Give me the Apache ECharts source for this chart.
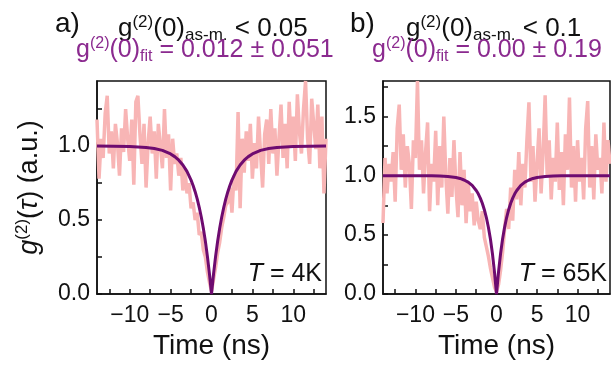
<!DOCTYPE html>
<html>
<head>
<meta charset="utf-8">
<script src="https://cdn.jsdelivr.net/npm/echarts@6/dist/echarts.min.js"></script>
<style>
  html, body { margin: 0; padding: 0; background: #fff; }
  #chart { width: 611px; height: 365px; }
</style>
</head>
<body>
<div id="chart"></div>
<script>
// time bins of the measured histograms (ns)
const timeStart = -14
const timeStep = 0.25

// a) T = 4K, measured g2 (one value per 0.25 ns bin, -14 .. 14)
const countsA = [
  1.18, 0.78, 1.05, 0.92, 1.22, 1.34, 0.95, 1.10, 0.85, 1.15, 1.02, 0.80,
  1.12, 0.96, 1.25, 1.05, 0.90, 1.18, 0.74, 1.30, 1.34, 1.08, 0.88, 1.15,
  0.72, 1.02, 1.20, 0.95, 1.10, 0.78, 1.15, 1.00, 0.85, 1.25, 0.92, 1.08,
  0.70, 1.05, 0.88, 0.95, 0.80, 0.92, 0.70, 0.85, 0.68, 0.75, 0.58, 0.62,
  0.50, 0.55, 0.40, 0.42, 0.30, 0.25, 0.15, 0.08, 0.02, 0.10, 0.18, 0.28,
  0.35, 0.45, 0.52, 0.60, 0.62, 0.72, 0.55, 0.80, 0.70, 1.23, 0.58, 1.05,
  0.82, 1.10, 0.90, 1.15, 0.78, 1.02, 0.85, 1.20, 0.95, 0.72, 1.08, 1.18,
  0.88, 1.25, 0.95, 1.12, 0.80, 1.05, 1.28, 0.92, 1.15, 0.85, 1.30, 1.00,
  1.20, 0.90, 1.35, 1.10, 0.95, 1.25, 1.44, 1.05, 0.88, 1.32, 1.15, 0.98,
  1.28, 0.85, 1.20, 0.68, 1.05
]

// b) T = 65K, measured g2
const countsB = [
  0.60, 1.15, 0.85, 1.10, 0.95, 1.20, 0.78, 1.40, 1.60, 1.05, 1.35, 0.90,
  1.25, 1.10, 0.72, 1.30, 1.15, 1.80, 1.05, 1.30, 0.85, 1.20, 1.45, 0.70,
  1.10, 0.95, 1.38, 0.75, 1.25, 0.90, 1.50, 1.00, 0.68, 1.15, 0.82, 1.30,
  0.90, 0.65, 1.20, 0.75, 1.05, 0.60, 0.95, 0.70, 0.85, 0.58, 0.78, 0.62,
  0.55, 0.70, 0.48, 0.40, 0.32, 0.22, 0.14, 0.06, 0.02, 0.08, 0.20, 0.35,
  0.55, 0.72, 0.55, 0.90, 0.62, 1.05, 0.80, 1.20, 0.75, 1.10, 0.90, 1.30,
  1.62, 0.95, 1.25, 0.78, 1.10, 1.40, 0.85, 1.20, 1.68, 1.00, 1.30, 0.80,
  1.15, 0.95, 1.45, 0.88, 1.20, 0.75, 1.35, 1.05, 1.66, 0.90, 1.25, 0.78,
  1.30, 0.95, 1.15, 0.80, 1.40, 1.63, 0.90, 1.25, 0.80, 1.35, 1.05, 1.15,
  0.85, 1.45, 0.95, 1.30, 1.10
]

// fit curves
const fitTime = [
  -14, -10, -8, -7, -6, -5, -4.5, -4, -3.5, -3, -2.5, -2.25, -2, -1.75, -1.5, -1.25, -1, -0.75, -0.5, -0.25,
  0, 0.25, 0.5, 0.75, 1, 1.25, 1.5, 1.75, 2, 2.25, 2.5, 3, 3.5, 4, 4.5, 5, 6, 7, 8, 10, 14
]
const fitA = [
  1.0, 0.997, 0.991, 0.984, 0.971, 0.947, 0.929, 0.905, 0.872, 0.829, 0.770, 0.734, 0.692, 0.643, 0.586, 0.521, 0.445, 0.357, 0.255, 0.137,
  0.0, 0.137, 0.255, 0.357, 0.445, 0.521, 0.586, 0.643, 0.692, 0.734, 0.770, 0.829, 0.872, 0.905, 0.929, 0.947, 0.971, 0.984, 0.991, 0.997, 1.0
]
const fitB = [
  1.0, 1.0, 0.999, 0.997, 0.993, 0.985, 0.977, 0.964, 0.946, 0.918, 0.875, 0.847, 0.811, 0.767, 0.713, 0.647, 0.565, 0.465, 0.341, 0.188,
  0.0, 0.188, 0.341, 0.465, 0.565, 0.647, 0.713, 0.767, 0.811, 0.847, 0.875, 0.918, 0.946, 0.964, 0.977, 0.985, 0.993, 0.997, 0.999, 1.0, 1.0
]

const xLabels = [-10, -5, 0, 5, 10]
const xTicks = [-12.5, -10, -7.5, -5, -2.5, 0, 2.5, 5, 7.5, 10, 12.5]
const yLabelsA = [0, 0.5, 1.0]
const yTicksA = [0, 0.25, 0.5, 0.75, 1.0, 1.25]
const yLabelsB = [0, 0.5, 1.0, 1.5]
const yTicksB = [0, 0.25, 0.5, 0.75, 1.0, 1.25, 1.5, 1.75]

const FONT = "Liberation Sans"
const INK = "#111"
const PURPLE_TEXT = "#8b2a8f"
const FIT_COLOR = "#6e0b70"
const DATA_COLOR = "#f8b5b5"

function richStyle(size, color, supSize) {
  return {
    fontSize: size,
    lineHeight: size + 4,
    color: color,
    fontFamily: FONT,
    fontWeight: "normal",
    rich: {
      sup: { fontSize: supSize, lineHeight: 6, verticalAlign: "top", color: color, fontFamily: FONT },
      sub: { fontSize: supSize, lineHeight: 18, verticalAlign: "bottom", color: color, fontFamily: FONT },
      i: { fontStyle: "italic", fontSize: size, color: color, fontFamily: FONT },
    },
  }
}

function timeAxis(gridIndex) {
  return {
    type: "value",
    gridIndex: gridIndex,
    min: -14,
    max: 14,
    axisLine: { show: true, onZero: false, lineStyle: { color: INK, width: 1.5 } },
    axisTick: { show: true, inside: true, length: 5, customValues: xTicks, lineStyle: { color: INK, width: 1.5 } },
    axisLabel: {
      customValues: xLabels,
      formatter: (v) => (v < 0 ? "\u2212" + Math.abs(v) : String(v)),
      color: INK,
      fontSize: 23,
      margin: 10,
      fontFamily: FONT,
    },
    splitLine: { show: false },
    name: "Time (ns)",
    nameLocation: "middle",
    nameGap: 35,
    nameTextStyle: { fontSize: 28, color: INK, fontFamily: FONT },
  }
}

function valueAxis(gridIndex, max, labels, ticks, name) {
  const axis = {
    type: "value",
    gridIndex: gridIndex,
    min: 0,
    max: max,
    axisLine: { show: true, onZero: false, lineStyle: { color: INK, width: 1.5 } },
    axisTick: { show: true, inside: true, length: 5, customValues: ticks, lineStyle: { color: INK, width: 1.5 } },
    axisLabel: {
      customValues: labels,
      formatter: (v) => v.toFixed(1),
      color: INK,
      fontSize: 23,
      margin: 7,
      fontFamily: FONT,
    },
    splitLine: { show: false },
  }
  if (name) {
    axis.name = name
    axis.nameLocation = "middle"
    axis.nameGap = 52
    axis.nameTextStyle = richStyle(27, INK, 17)
  }
  return axis
}

const chart = echarts.init(document.getElementById("chart"), null, { renderer: "canvas" })

const option = {
  animation: false,
  backgroundColor: "#fff",
  title: [
    { text: "a)", left: 55, top: 10, padding: 0, textStyle: { fontSize: 28, color: INK, fontFamily: FONT, fontWeight: "normal" } },
    { text: "g{sup|(2)}(0){sub|as-m.} < 0.05", left: 118, top: 14, padding: 0, textStyle: richStyle(26, INK, 17) },
    { text: "g{sup|(2)}(0){sub|fit} = 0.012 \u00b1 0.051", left: 76, top: 36, padding: 0, textStyle: richStyle(25, PURPLE_TEXT, 16) },
    { text: "b)", left: 350, top: 10, padding: 0, textStyle: { fontSize: 28, color: INK, fontFamily: FONT, fontWeight: "normal" } },
    { text: "g{sup|(2)}(0){sub|as-m.} < 0.1", left: 406, top: 14, padding: 0, textStyle: richStyle(26, INK, 17) },
    { text: "g{sup|(2)}(0){sub|fit} = 0.00 \u00b1 0.19", left: 372, top: 36, padding: 0, textStyle: richStyle(25, PURPLE_TEXT, 16) },
  ],
  grid: [
    { left: 97, top: 81, width: 229, height: 218, show: true, borderColor: INK, borderWidth: 1.5 },
    { left: 383, top: 81, width: 227, height: 218, show: true, borderColor: INK, borderWidth: 1.5 },
  ],
  xAxis: [timeAxis(0), timeAxis(1)],
  yAxis: [
    valueAxis(0, 1.44, yLabelsA, yTicksA, "{i|g}{sup|(2)}({i|\u03c4}) (a.u.)"),
    valueAxis(1, 1.8, yLabelsB, yTicksB, null),
  ],
  graphic: [
    {
      type: "text",
      right: 611 - 322,
      top: 262,
      style: { text: "{i|T} = 4K", fill: INK, font: "25px " + FONT, rich: { i: { fontStyle: "italic", fontSize: 25, fontFamily: FONT } } },
    },
    {
      type: "text",
      right: 611 - 607,
      top: 262,
      style: { text: "{i|T} = 65K", fill: INK, font: "25px " + FONT, rich: { i: { fontStyle: "italic", fontSize: 25, fontFamily: FONT } } },
    },
  ],
  series: [
    {
      type: "line", xAxisIndex: 0, yAxisIndex: 0, showSymbol: false, z: 2,
      data: countsA.map((v, i) => [timeStart + i * timeStep, v]),
      lineStyle: { color: DATA_COLOR, width: 3.5 },
    },
    {
      type: "line", xAxisIndex: 0, yAxisIndex: 0, showSymbol: false, z: 3,
      data: fitTime.map((t, i) => [t, fitA[i]]),
      lineStyle: { color: FIT_COLOR, width: 3 },
    },
    {
      type: "line", xAxisIndex: 1, yAxisIndex: 1, showSymbol: false, z: 2,
      data: countsB.map((v, i) => [timeStart + i * timeStep, v]),
      lineStyle: { color: DATA_COLOR, width: 3.5 },
    },
    {
      type: "line", xAxisIndex: 1, yAxisIndex: 1, showSymbol: false, z: 3,
      data: fitTime.map((t, i) => [t, fitB[i]]),
      lineStyle: { color: FIT_COLOR, width: 3 },
    },
  ],
}

chart.setOption(option)
</script>
</body>
</html>
